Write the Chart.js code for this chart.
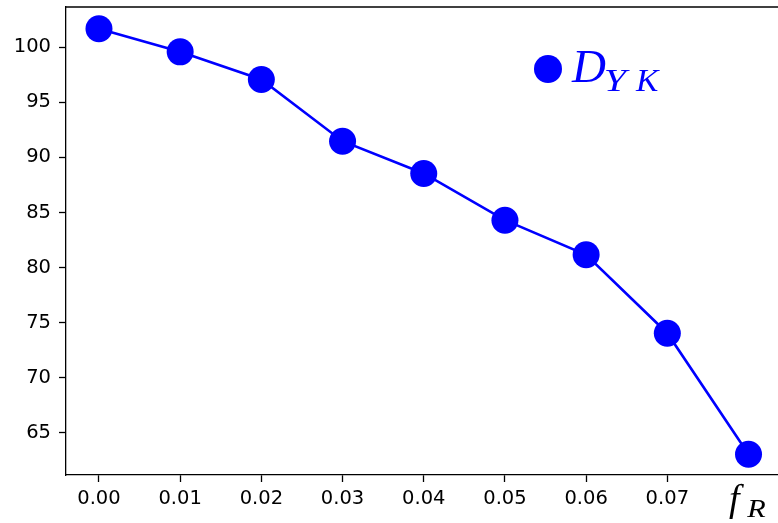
<!DOCTYPE html>
<html>
<head>
<meta charset="utf-8">
<script src="https://cdn.jsdelivr.net/npm/chart.js@4"></script>
<style>
  html, body { margin: 0; padding: 0; background: #fff; overflow: hidden; }
  canvas { display: block; }
</style>
</head>
<body>
<canvas id="c" width="781" height="523" style="width:781px;height:523px"></canvas>
<script>
// f_R values and the measured D_YK at each
const fR = [0.00, 0.01, 0.02, 0.03, 0.04, 0.05, 0.06, 0.07, 0.08];
const dYK = [101.67, 99.58, 97.07, 91.47, 88.54, 84.30, 81.16, 74.04, 63.06];
const xTicks = [0.00, 0.01, 0.02, 0.03, 0.04, 0.05, 0.06, 0.07];
const yTicks = [65, 70, 75, 80, 85, 90, 95, 100];

const BLUE = '#0000ff';
const tickFont = { family: 'DejaVu Sans', size: 19.5 };
const MATH = '"Liberation Serif"';

// italic math glyph with its ink starting at x0; if x1 is given the
// glyph is widened (at most 1.3x) so its ink reaches x1
function glyph(ctx, t, x0, x1, baseline, size) {
  ctx.save();
  ctx.font = 'italic ' + size + 'px ' + MATH;
  ctx.textAlign = 'left';
  ctx.textBaseline = 'alphabetic';
  const m = ctx.measureText(t);
  const ink = m.actualBoundingBoxLeft + m.actualBoundingBoxRight;
  let sx = 1;
  if (x1 != null && ink > 0) sx = Math.min(Math.max((x1 - x0) / ink, 1), 1.3);
  ctx.translate(x0 + m.actualBoundingBoxLeft * sx, baseline);
  ctx.scale(sx, 1);
  ctx.fillText(t, 0, 0);
  ctx.restore();
}

// top spine, legend entry and the f_R axis label
const decor = {
  id: 'decor',
  afterDraw(chart) {
    const { ctx, chartArea } = chart;
    ctx.save();
    ctx.strokeStyle = '#000';
    ctx.lineWidth = 1.3;
    ctx.beginPath();
    ctx.moveTo(chartArea.left, chartArea.top);
    ctx.lineTo(chartArea.right, chartArea.top);
    ctx.stroke();

    // legend
    ctx.fillStyle = BLUE;
    ctx.beginPath();
    ctx.arc(548, 69, 14, 0, Math.PI * 2);
    ctx.fill();
    glyph(ctx, 'D', 571, 600, 82, 47);
    glyph(ctx, 'Y', 605, 631, 90.5, 31);
    glyph(ctx, 'K', 635, 661, 90.5, 31);

    // x-axis label at the far end of the axis
    ctx.fillStyle = '#000';
    glyph(ctx, 'f', 729, null, 511, 38);
    glyph(ctx, 'R', 746, 766, 517, 25.7);
    ctx.restore();
  }
};

// pin the plot box: no extra room reserved for tick labels
function noPad(s) {
  s.paddingTop = 0; s.paddingBottom = 0; s.paddingLeft = 0; s.paddingRight = 0;
}

new Chart(document.getElementById('c'), {
  type: 'line',
  data: {
    datasets: [{
      label: 'D_YK',
      data: fR.map((x, i) => ({ x, y: dYK[i] })),
      borderColor: BLUE,
      backgroundColor: BLUE,
      borderWidth: 2.6,
      pointRadius: 13.5,
      pointHoverRadius: 13.5,
      pointBorderWidth: 0,
      pointBackgroundColor: BLUE,
      tension: 0,
      clip: false
    }]
  },
  options: {
    responsive: false,
    animation: false,
    events: [],
    layout: { padding: { top: 7, right: 0, left: 0, bottom: 0 }, autoPadding: false },
    plugins: { legend: { display: false }, tooltip: { enabled: false } },
    scales: {
      x: {
        type: 'linear',
        min: -0.00406,
        max: 0.084,
        afterBuildTicks(s) { s.ticks = xTicks.map(v => ({ value: v })); },
        afterFit(s) { s.height = 48; noPad(s); },
        grid: { drawOnChartArea: false, drawTicks: true, tickLength: 7, tickColor: '#000', tickWidth: 1.3 },
        border: { display: true, color: '#000', width: 1.3 },
        ticks: {
          color: '#000', font: tickFont, padding: 5, maxRotation: 0, autoSkip: false,
          callback: v => v.toFixed(2)
        }
      },
      y: {
        type: 'linear',
        min: 61.17,
        max: 103.65,
        afterBuildTicks(s) { s.ticks = yTicks.map(v => ({ value: v })); },
        afterFit(s) { s.width = 66; noPad(s); },
        grid: { drawOnChartArea: false, drawTicks: true, tickLength: 7, tickColor: '#000', tickWidth: 1.3 },
        border: { display: true, color: '#000', width: 1.3 },
        ticks: { color: '#000', font: tickFont, padding: 8, autoSkip: false, callback: v => String(v) }
      }
    }
  },
  plugins: [decor]
});
</script>
</body>
</html>
